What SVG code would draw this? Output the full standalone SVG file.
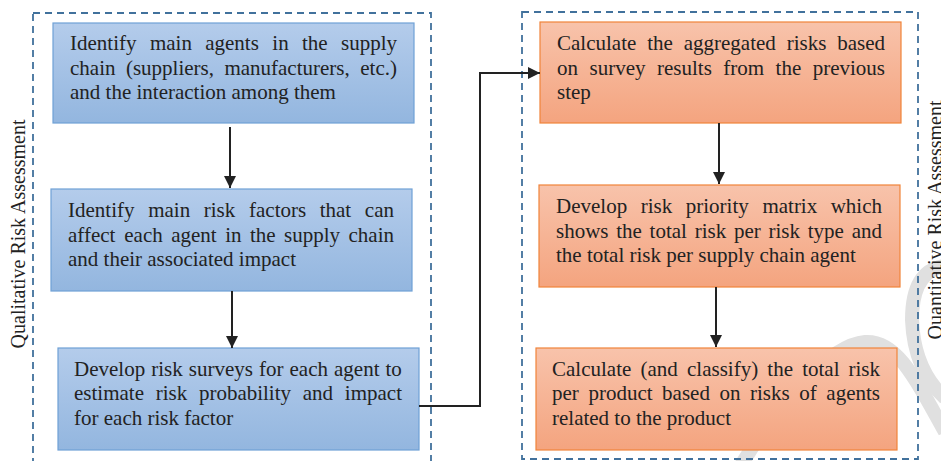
<svg xmlns="http://www.w3.org/2000/svg" width="941" height="461" viewBox="0 0 941 461">
  <style>
    .t { font-family: "Liberation Serif", "Times New Roman", serif; font-size: 21px; fill: #222; }
    .lbl { font-family: "Liberation Serif", "Times New Roman", serif; font-size: 20px; fill: #222; text-anchor: middle; }
    .frame { fill: none; stroke: #41719c; stroke-width: 1.8; stroke-dasharray: 7 5; }
    .blue { fill: url(#gBlue); stroke: #6fa1d6; stroke-width: 1.2; }
    .orange { fill: url(#gOrange); stroke: #f0843a; stroke-width: 1.2; }
    .wire { fill: none; stroke: #222; stroke-width: 2; }
    .mark { fill: none; stroke: #e0e0e0; stroke-width: 14; }
  </style>
  <defs>
    <linearGradient id="gBlue" x1="0" y1="0" x2="0" y2="1">
      <stop offset="0" stop-color="#b4cceb"/>
      <stop offset="1" stop-color="#93b6df"/>
    </linearGradient>
    <linearGradient id="gOrange" x1="0" y1="0" x2="0" y2="1">
      <stop offset="0" stop-color="#f8c3ab"/>
      <stop offset="1" stop-color="#f4a47f"/>
    </linearGradient>
    <marker id="arrow" markerUnits="userSpaceOnUse" markerWidth="13" markerHeight="13" refX="12" refY="6" orient="auto">
      <path d="M0,0 L12,6 L0,12 z" fill="#222"/>
    </marker>
  </defs>

  <rect width="941" height="461" fill="#fff"/>

  <!-- faint background mark -->
  <g id="backdrop">
    <path class="mark" d="M735,475 C780,400 830,345 865,342 C895,340 912,372 945,432"/>
    <path class="mark" d="M945,266 Q912,270 912,320 Q914,370 945,398"/>
  </g>

  <!-- phase frames -->
  <g id="frame-qualitative">
    <rect class="frame" x="33" y="13" width="398" height="470"/>
    <text class="lbl" transform="translate(25,234) rotate(-90)">Qualitative Risk Assessment</text>
  </g>
  <g id="frame-quantitative">
    <rect class="frame" x="522" y="12" width="396" height="447"/>
    <text class="lbl" transform="translate(942,220) rotate(-90)">Quantitative Risk Assessment</text>
  </g>

  <!-- step 1 -->
  <g id="step-agents">
    <rect class="blue" x="53" y="23" width="361" height="100"/>
    <text class="t" y="50"><tspan x="70">Identify</tspan><tspan x="149.9">main</tspan><tspan x="205.2">agents</tspan><tspan x="272.3">in</tspan><tspan x="302">the</tspan><tspan x="397" text-anchor="end">supply</tspan></text>
    <text class="t" y="75"><tspan x="70">chain</tspan><tspan x="125.9">(suppliers,</tspan><tspan x="224.4">manufacturers,</tspan><tspan x="397" text-anchor="end">etc.)</tspan></text>
    <text class="t" x="70" y="99">and the interaction among them</text>
  </g>

  <!-- step 2 -->
  <g id="step-risk-factors">
    <rect class="blue" x="51" y="189" width="361" height="102"/>
    <text class="t" y="217"><tspan x="68">Identify</tspan><tspan x="148.2">main</tspan><tspan x="203.8">risk</tspan><tspan x="249">factors</tspan><tspan x="319.7">that</tspan><tspan x="394" text-anchor="end">can</tspan></text>
    <text class="t" y="242"><tspan x="68">affect</tspan><tspan x="124.3">each</tspan><tspan x="171.2">agent</tspan><tspan x="225.2">in</tspan><tspan x="249.9">the</tspan><tspan x="284.1">supply</tspan><tspan x="394" text-anchor="end">chain</tspan></text>
    <text class="t" x="68" y="266">and their associated impact</text>
  </g>

  <!-- step 3 -->
  <g id="step-surveys">
    <rect class="blue" x="58" y="348" width="361" height="102"/>
    <text class="t" x="74" y="376" word-spacing="0.8">Develop risk surveys for each agent to</text>
    <text class="t" y="400"><tspan x="74">estimate</tspan><tspan x="155.7">risk</tspan><tspan x="198.9">probability</tspan><tspan x="302.8">and</tspan><tspan x="402" text-anchor="end">impact</tspan></text>
    <text class="t" x="74" y="425">for each risk factor</text>
  </g>

  <!-- step 4 -->
  <g id="step-aggregate">
    <rect class="orange" x="540" y="22" width="361" height="101"/>
    <text class="t" y="50"><tspan x="557">Calculate</tspan><tspan x="647.2">the</tspan><tspan x="683.7">aggregated</tspan><tspan x="786.7">risks</tspan><tspan x="885" text-anchor="end">based</tspan></text>
    <text class="t" y="75"><tspan x="557">on</tspan><tspan x="589.5">survey</tspan><tspan x="657">results</tspan><tspan x="723.3">from</tspan><tspan x="775.6">the</tspan><tspan x="885" text-anchor="end">previous</tspan></text>
    <text class="t" x="557" y="99">step</text>
  </g>

  <!-- step 5 -->
  <g id="step-matrix">
    <rect class="orange" x="539" y="185" width="361" height="102"/>
    <text class="t" y="213"><tspan x="556">Develop</tspan><tspan x="640.7">risk</tspan><tspan x="685.8">priority</tspan><tspan x="762.4">matrix</tspan><tspan x="882" text-anchor="end">which</tspan></text>
    <text class="t" y="238"><tspan x="556">shows</tspan><tspan x="616.2">the</tspan><tspan x="649.6">total</tspan><tspan x="694.7">risk</tspan><tspan x="733.9">per</tspan><tspan x="768.5">risk</tspan><tspan x="807.7">type</tspan><tspan x="882" text-anchor="end">and</tspan></text>
    <text class="t" x="556" y="262">the total risk per supply chain agent</text>
  </g>

  <!-- step 6 -->
  <g id="step-product">
    <rect class="orange" x="536" y="348" width="361" height="102"/>
    <text class="t" y="376"><tspan x="552">Calculate</tspan><tspan x="640.5">(and</tspan><tspan x="687">classify)</tspan><tspan x="767.3">the</tspan><tspan x="802.2">total</tspan><tspan x="880" text-anchor="end">risk</tspan></text>
    <text class="t" y="400"><tspan x="552">per</tspan><tspan x="588.4">product</tspan><tspan x="662.1">based</tspan><tspan x="719.5">on</tspan><tspan x="750">risks</tspan><tspan x="799.3">of</tspan><tspan x="880" text-anchor="end">agents</tspan></text>
    <text class="t" x="552" y="425">related to the product</text>
  </g>

  <!-- connectors -->
  <g id="connectors">
    <line class="wire" x1="230" y1="127" x2="230" y2="188" marker-end="url(#arrow)"/>
    <line class="wire" x1="232" y1="291" x2="232" y2="348" marker-end="url(#arrow)"/>
    <polyline class="wire" points="419,406 480,406 480,73 540,73" marker-end="url(#arrow)"/>
    <line class="wire" x1="719" y1="123" x2="719" y2="184" marker-end="url(#arrow)"/>
    <line class="wire" x1="716" y1="287" x2="716" y2="347" marker-end="url(#arrow)"/>
  </g>
</svg>
